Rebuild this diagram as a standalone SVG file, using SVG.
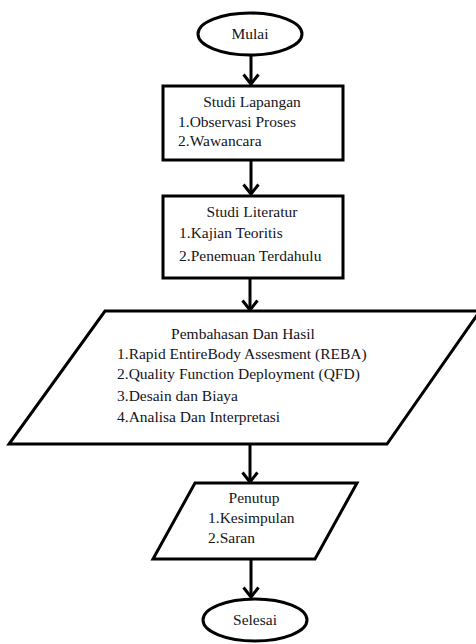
<svg xmlns="http://www.w3.org/2000/svg" width="476" height="644" viewBox="0 0 476 644">
<style>
.shape{fill:#fff;stroke:#000;stroke-width:3;stroke-linejoin:miter}
.t{font-family:'Liberation Serif','DejaVu Serif',serif;font-size:15.5px;fill:#141420}
.c{text-anchor:middle}
.conn{stroke:#000;stroke-width:3;fill:none}
</style>
<defs>
<marker id="arr" viewBox="0 0 14 18" refX="11" refY="9" markerWidth="14" markerHeight="18" markerUnits="userSpaceOnUse" orient="auto">
<path d="M1.5,1.5 L11,9 L1.5,16.5" fill="none" stroke="#000" stroke-width="3"/>
</marker>
</defs>
<rect width="476" height="644" fill="#fff"/>
<g id="connectors">
<line class="conn" x1="251" y1="55" x2="251" y2="84" marker-end="url(#arr)"/>
<line class="conn" x1="251" y1="161" x2="251" y2="194" marker-end="url(#arr)"/>
<line class="conn" x1="250" y1="279" x2="250" y2="310" marker-end="url(#arr)"/>
<line class="conn" x1="250" y1="445" x2="250" y2="482" marker-end="url(#arr)"/>
<line class="conn" x1="251" y1="560" x2="251" y2="597" marker-end="url(#arr)"/>
</g>
<g id="mulai">
<ellipse class="shape" cx="250" cy="34" rx="52" ry="21"/>
<text class="t c" x="250" y="39">Mulai</text>
</g>
<g id="studi-lapangan">
<rect class="shape" x="163" y="86" width="180" height="74"/>
<text class="t c" x="252" y="107">Studi Lapangan</text>
<text class="t" x="178" y="127">1.Observasi Proses</text>
<text class="t" x="178" y="146">2.Wawancara</text>
</g>
<g id="studi-literatur">
<rect class="shape" x="163" y="196" width="180" height="82"/>
<text class="t c" x="252" y="217">Studi Literatur</text>
<text class="t" x="179" y="238">1.Kajian Teoritis</text>
<text class="t" x="179" y="261">2.Penemuan Terdahulu</text>
</g>
<g id="pembahasan">
<polygon class="shape" points="105,311 480,311 387,444 9,444"/>
<text class="t c" x="243" y="339">Pembahasan Dan Hasil</text>
<text class="t" x="117" y="359">1.Rapid EntireBody Assesment (REBA)</text>
<text class="t" x="117" y="379">2.Quality Function Deployment (QFD)</text>
<text class="t" x="117" y="401">3.Desain dan Biaya</text>
<text class="t" x="117" y="422">4.Analisa Dan Interpretasi</text>
</g>
<g id="penutup">
<polygon class="shape" points="195,483 357,483 315,559 153,559"/>
<text class="t c" x="254" y="503">Penutup</text>
<text class="t" x="208" y="523">1.Kesimpulan</text>
<text class="t" x="208" y="543">2.Saran</text>
</g>
<g id="selesai">
<ellipse class="shape" cx="255" cy="620" rx="52" ry="21"/>
<text class="t c" x="255" y="625">Selesai</text>
</g>
</svg>
